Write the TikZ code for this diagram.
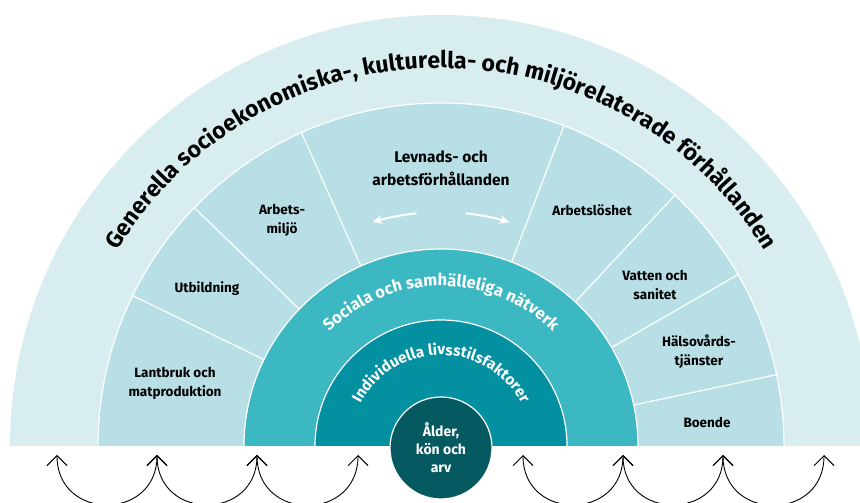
\documentclass[tikz,border=0pt]{standalone}
\usepackage{fontspec}
\setmainfont{Fira Sans}
\usetikzlibrary{arrows.meta,calc,decorations.text}

\definecolor{ringout}{HTML}{D8EDF0}
\definecolor{ringmid}{HTML}{B8DFE5}
\definecolor{ringsoc}{HTML}{3BB8C1}
\definecolor{ringind}{HTML}{0391A1}
\definecolor{ringcore}{HTML}{055A62}

\tikzset{
    seam/.style={white, line width=1.2pt},
    lbl/.style={font=\bfseries\fontsize{13.5}{19}\selectfont, align=center, text=black},
    flow/.style={{Straight Barb[length=10pt,width=20pt]}-{Straight Barb[length=10pt,width=20pt]}, line width=0.9pt, out=-90, in=-90, looseness=1.7},
    swing/.style={-{Stealth[length=10pt,width=9pt]}, white, line width=2pt},
}

\begin{document}
\begin{tikzpicture}[x=1pt, y=1pt]
                \useasboundingbox (0,0) rectangle (860,503);
                \clip (0,0) rectangle (860,503);
                \coordinate (c) at (441,57);

                % Rings
                \fill[ringout] (c) ++(431,0) arc[start angle=0, end angle=180, radius=431] -- cycle;
                \fill[ringmid] (c) ++(343,0) arc[start angle=0, end angle=180, radius=343] -- cycle;
                \draw[seam] (c) ++(343,0) arc[start angle=0, end angle=180, radius=343];
                \foreach \a in {154,136,114,69,47,30,12}
                    \draw[seam] ($(c)+(\a:197)$) -- ($(c)+(\a:343)$);
                \fill[ringsoc] (c) ++(197,0) arc[start angle=0, end angle=180, radius=197] -- cycle;
                \draw[seam] (c) ++(197,0) arc[start angle=0, end angle=180, radius=197];
                \fill[ringind] (c) ++(126,0) arc[start angle=0, end angle=180, radius=126] -- cycle;
                \draw[seam] (c) ++(126,0) arc[start angle=0, end angle=180, radius=126];

                % Ring titles
                \path[decorate, decoration={text along path, text align=center,
                    text={|\fontsize{23}{23}\bfseries\selectfont|Generella socioekonomiska-, kulturella- och miljörelaterade förhållanden}}]
                    ($(c)+(175:378)$) arc[start angle=175, end angle=5, radius=378];
                \path[decorate, decoration={text along path, text align=center, text color=white,
                    text={|\fontsize{16.5}{16.5}\bfseries\selectfont|Sociala och samhälleliga nätverk}}]
                    ($(c)+(170:160)$) arc[start angle=170, end angle=10, radius=160];
                \path[decorate, decoration={text along path, text align=center, text color=white,
                    text={|\fontsize{15.3}{15.3}\bfseries\selectfont|Individuella livsstilsfaktorer}}]
                    ($(c)+(178:91)$) arc[start angle=178, end angle=2, radius=91];

                % Nodes
                \node[lbl] (lantbruk) at (175,120) {Lantbruk och\\matproduktion};
                \node[lbl] (utbildning) at (207,214) {Utbildning};
                \node[lbl] (arbetsmiljo) at (282,283) {Arbets-\\miljö};
                \node[lbl, font=\bfseries\fontsize{15.5}{23}\selectfont] (levnads) at (441,335) {Levnads- och\\arbetsförhållanden};
                \node[lbl] (arbetsloshet) at (592,293) {Arbetslöshet};
                \node[lbl] (vatten) at (655,218) {Vatten och\\sanitet};
                \node[lbl] (halsovard) at (699,151) {Hälsovårds-\\tjänster};
                \node[lbl] (boende) at (707,81) {Boende};
                \node[circle, fill=ringcore, draw=white, line width=1.2pt, minimum size=102pt, inner sep=0pt,
                    font=\bfseries\fontsize{14}{18}\selectfont, text=white, align=center] (core) at (441,55) {Ålder,\\kön och\\arv};

                % White arrows
                \coordinate (swl) at ($(c)+(96:234)$);
                \coordinate (swr) at ($(c)+(84:234)$);
                \draw[swing] (swl) arc[start angle=96, end angle=107, radius=234];
                \draw[swing] (swr) arc[start angle=84, end angle=73, radius=234];

                % Bottom arrows
                \coordinate (t1) at (57,48);
                \coordinate (t2) at (157,48);
                \coordinate (t3) at (257,48);
                \coordinate (t4) at (358,48);
                \coordinate (t5) at (523,48);
                \coordinate (t6) at (623,48);
                \coordinate (t7) at (723,48);
                \coordinate (t8) at (824,48);

                \draw[flow] (t1) to (t2);
                \draw[flow] (t2) to (t3);
                \draw[flow] (t3) to (t4);
                \draw[flow] (t5) to (t6);
                \draw[flow] (t6) to (t7);
                \draw[flow] (t7) to (t8);
\end{tikzpicture}
\end{document}
